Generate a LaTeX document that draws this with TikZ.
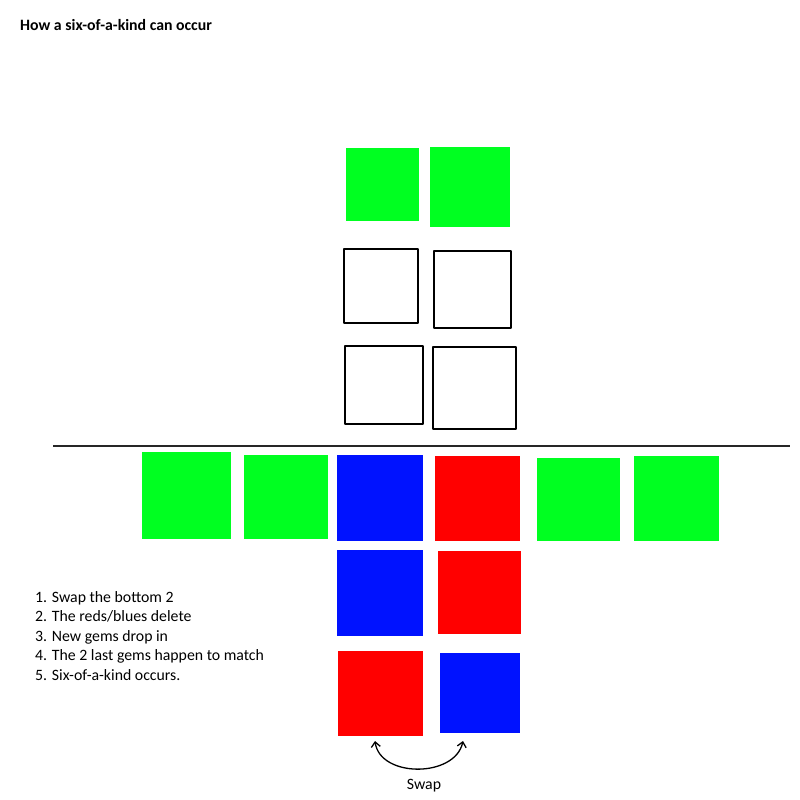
\documentclass[tikz,border=0pt]{standalone}
\usepackage{fontspec}
\setmainfont{Carlito}
\usetikzlibrary{arrows.meta}
\definecolor{gemgreen}{RGB}{0,255,33}
\definecolor{gemblue}{RGB}{0,18,255}
\definecolor{gemred}{RGB}{255,0,0}
\begin{document}
\begin{tikzpicture}[x=1pt, y=-1pt, font=\fontsize{15.8}{19.5}\selectfont, line join=round, >={Straight Barb[length=5pt,width=9pt]},
	slot/.style={draw=black, line width=2pt}]
	\useasboundingbox (0,0) rectangle (800,800);
	\node[anchor=west, inner sep=0, font=\fontsize{15.8}{19}\selectfont\bfseries] (title) at (20,25) {How a six-of-a-kind can occur};
	% gems waiting above
	\fill[gemgreen] (346,148) rectangle (419,221);
	\fill[gemgreen] (430,147) rectangle (510,227);
	% empty places
	\draw[slot] (344,249) rectangle (418,323);
	\draw[slot] (434,251) rectangle (511,328);
	\draw[slot] (345,346) rectangle (423,424);
	\draw[slot] (433,347) rectangle (516,429);
	\draw[line width=2pt, black!85] (53,445.5) -- (790,445.5);
	% the row
	\fill[gemgreen] (142,452) rectangle (231,539);
	\fill[gemgreen] (244,455) rectangle (328,539);
	\fill[gemblue] (337,455) rectangle (423,541);
	\fill[gemred] (435,456) rectangle (520,541);
	\fill[gemgreen] (537,458) rectangle (620,541);
	\fill[gemgreen] (634,456) rectangle (719,541);
	\fill[gemblue] (337,550) rectangle (423,636);
	\fill[gemred] (438,551) rectangle (521,634);
	\fill[gemred] (338,651) rectangle (423,736);
	\fill[gemblue] (440,653) rectangle (520,733);
	% swap
	\coordinate (swapL) at (375,741);
	\coordinate (swapR) at (463,741);
	\draw[<->, line width=1.3pt] (swapL) .. controls (380,778) and (455,778) .. (swapR);
	\node (swaplabel) at (424,786) {Swap};
	\foreach \i/\t in {1/{Swap the bottom 2}, 2/{The reds/blues delete}, 3/{New gems drop in}, 4/{The 2 last gems happen to match}, 5/{Six-of-a-kind occurs.}}
		\node[anchor=base west, inner sep=0] (step\i) at (35,583+19.4*\i) {\i. \t};
\end{tikzpicture}
\end{document}
